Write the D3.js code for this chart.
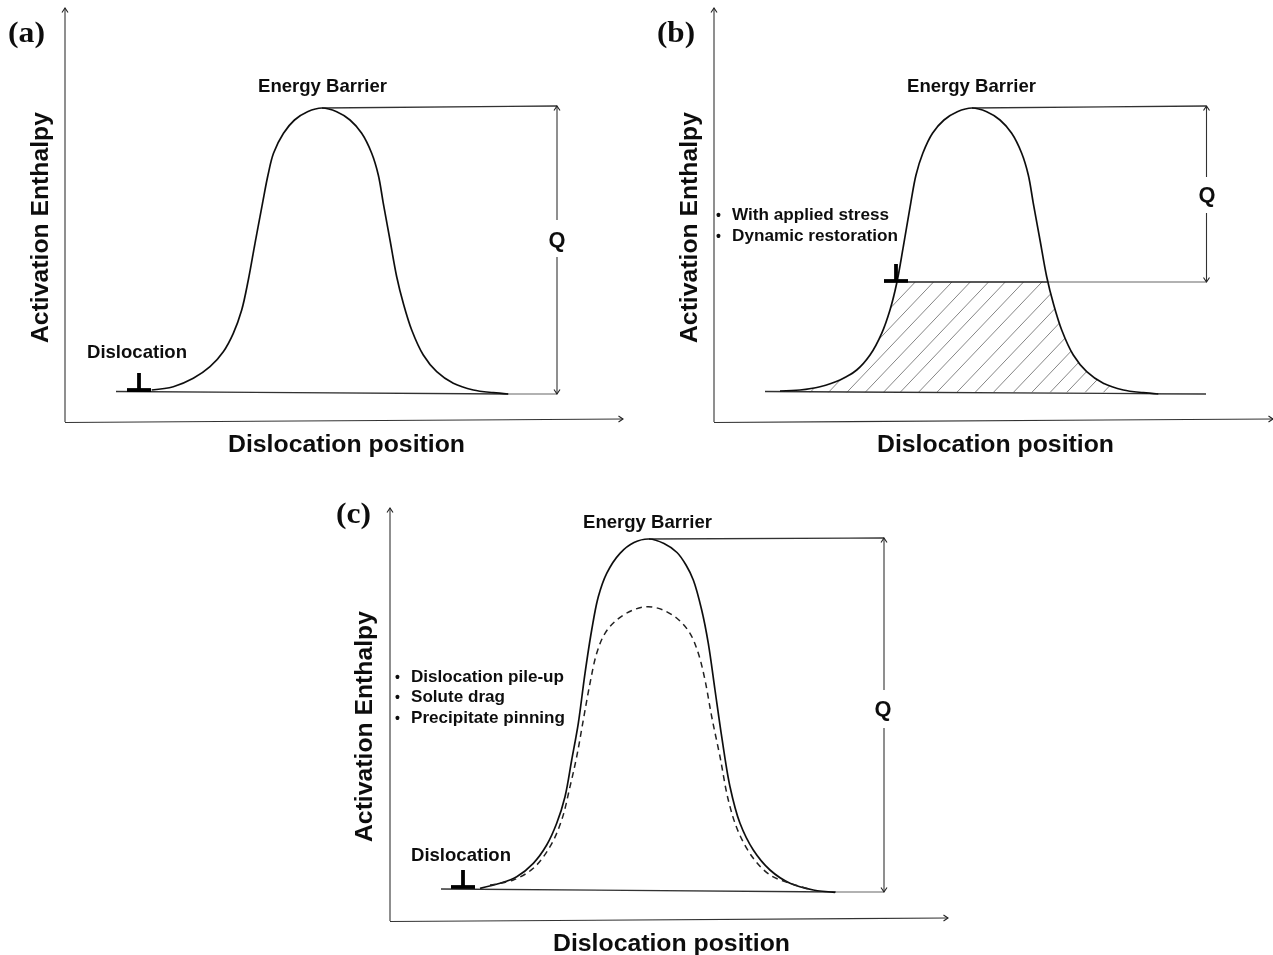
<!DOCTYPE html>
<html><head><meta charset="utf-8">
<style>html,body{margin:0;padding:0;background:#fff}svg{display:block}</style>
<script src="https://cdn.jsdelivr.net/npm/d3@7"></script></head>
<body><svg id="c" width="1273" height="955"></svg>
<script>
// Curve samples: dislocation position / activation enthalpy, in arbitrary units measured from each panel's axes origin
const posA=[86.7,108.3,128.3,145,158.3,168.3,176.7,183.3,190,197.5,203,208.5,218.5,229.5,242.5,257,271.7,285,296.7,306.7,313.3,318.3,325,331.7,338.3,346.7,358.3,371.7,388.3,408.3,428.3,443.3];
const enthA=[32,35.3,43.7,55.3,70.3,88.7,112,142,178.7,218.7,247,268.7,288.7,302,310.3,314,310.3,302,288.7,268.7,247,218.7,182,145.3,118.7,92,67,50.3,38.7,32,29.3,28];
const posB=[66,86,106,126,142.7,156,167.7,176,182.7,189.3,196.7,202,208.8,218.5,230,243.3,258,272.7,286,297.7,307.7,314.3,319.3,326,332.7,339.3,347.7,359.3,372.7,389.3,409.3,429.3,444.3];
const enthB=[31,32,35.3,42,52,67,88.7,112,138.7,175.3,218.7,247,268.7,288.7,302,310.3,314,310.3,302,288.7,268.7,247,218.7,182,145.3,118.7,92,67,50.3,38.7,32,29.3,28];
const posC=[90,110,126.7,143.3,156.7,166.7,175,181.7,188.3,195,201.7,208.3,216.7,230,244,259,274,287,296,303.3,311.7,318.3,325,331.7,340,350,363.3,380,400,423.3,445];
const enthC=[32.7,37.7,44.3,57.7,76,97.7,124.3,161,197.7,247.7,291,324.3,347.7,367.7,378.5,382,377.5,368.5,356,341,311,277.7,231,184.3,134.3,97.7,71,51,37.7,31,28.7];
const posCd=[100,123.3,143.3,160,171.7,180,186.7,193.3,200,206.7,215,226.7,243,258,273,288.3,300,308.3,315,321.7,330,338.3,348.3,363.3,380,400,420];
const enthCd=[36,41,52.7,74.3,101,134.3,164.3,201,237.7,267.7,287.7,301,311,314.3,311,301.5,287.7,267.7,241,204.3,164.3,121,89.3,62.7,46,37.7,31.7];
const hatchStarts=[96,114.3,132.7,151,169.3,186,204.3,222.7,242.7,261,279.3,299.3,317.7,336,352.7,371,389.3];
const panelLabels=["(a)","(b)","(c)"];
const xTitle="Dislocation position", yTitle="Activation Enthalpy", barrierLabel="Energy Barrier", dislocationLabel="Dislocation", qLabel="Q";
const notesB=["With applied stress","Dynamic restoration"];
const notesC=["Dislocation pile-up","Solute drag","Precipitate pinning"];

const svg=d3.select("#c");
const defs=svg.append("defs");
defs.append("filter").attr("id","soft").attr("x","0").attr("y","0").attr("width","1").attr("height","1")
  .append("feGaussianBlur").attr("stdDeviation",0.45);
defs.append("marker").attr("id","ah").attr("viewBox","-7 -4 8 8").attr("markerWidth",8).attr("markerHeight",8)
  .attr("markerUnits","userSpaceOnUse").attr("orient","auto-start-reverse")
  .append("path").attr("d","M-4.5,-3L0,0L-4.5,3").attr("fill","none").attr("stroke","#222").attr("stroke-width",1.1);
const root=svg.append("g").attr("filter","url(#soft)").append("g");
root.append("rect").attr("width",1273).attr("height",955).attr("fill","#fff");

const SANS="'Liberation Sans',Arial,sans-serif", SERIF="'Liberation Serif','Times New Roman',serif";
function txt(g,s,x,y,size,len,o={}){
  const t=g.append("text").attr("x",x).attr("y",y).attr("font-family",o.serif?SERIF:SANS).attr("font-weight","bold")
   .attr("font-size",size).attr("fill","#111").text(s);
  if(len)t.attr("textLength",len).attr("lengthAdjust","spacingAndGlyphs");
  if(o.rot)t.attr("transform",`rotate(-90 ${x} ${y})`);
  return t;
}
function panel(id,cfg){
  const g=root.append("g");
  const x=d3.scaleLinear().domain([0,cfg.w]).range([cfg.ox,cfg.ox+cfg.w]);
  const y=d3.scaleLinear().domain([0,cfg.h]).range([cfg.oy,cfg.oy-cfg.h]);
  const ln=d3.line().x(d=>x(d[0])).y(d=>y(d[1]));
  const seg=(pts,w,col,o={})=>{const p=g.append("path").attr("d",ln(pts)).attr("fill","none").attr("stroke",col).attr("stroke-width",w);
    if(o.start)p.attr("marker-start","url(#ah)"); if(o.end)p.attr("marker-end","url(#ah)"); return p;};
  // axes
  seg([[0,0],[0,cfg.h]],1.1,"#333",{end:true});
  seg([[0,-0.5],[cfg.w,3]],1.1,"#333",{end:true});
  const shape=d3.curveCatmullRom.alpha(0.5);
  const curve=d3.line().x(d=>x(d[0])).y(d=>y(d[1])).curve(shape);
  const data=cfg.px.map((p,i)=>[p,cfg.py[i]]);
  // hatch
  if(cfg.hatch){
    const area=d3.area().x(d=>x(d[0])).y0(y(cfg.base)).y1(d=>y(Math.min(d[1],cfg.level))).curve(shape);
    defs.append("clipPath").attr("id","clip"+id).append("path").attr("d",area(data));
    const hg=g.append("g").attr("clip-path",`url(#clip${id})`);
    cfg.hatch.forEach(s=>{hg.append("path").attr("d",ln([[s,cfg.base],[s+(cfg.level+5-cfg.base)/1.05,cfg.level+5]])).attr("fill","none").attr("stroke","#666").attr("stroke-width",0.8);});
  }
  // baseline, peak line, Q
  seg(cfg.baseline,1.3,"#333");
  seg(cfg.endline,1.1,"#666");
  seg(cfg.peakline,1.3,"#333");
  if(cfg.levelline){seg(cfg.levelline[0],1.5,"#222");seg(cfg.levelline[1],1.1,"#666");}
  seg([[cfg.qx,cfg.qTop],[cfg.qx,cfg.qGap[0]]],1.1,"#333",{start:true});
  seg([[cfg.qx,cfg.qGap[1]],[cfg.qx,cfg.qBot]],1.1,"#333",{end:true});
  g.append("path").attr("d",curve(data)).attr("fill","none").attr("stroke","#111").attr("stroke-width",1.7);
  if(cfg.dx){
    const dd=cfg.dx.map((p,i)=>[p,cfg.dy[i]]);
    g.append("path").attr("d",curve(dd)).attr("fill","none").attr("stroke","#222").attr("stroke-width",1.5).attr("stroke-dasharray","6 4.5");
  }
  // dislocation symbol
  const [sx,sy]=cfg.sym;
  seg([[sx-12,sy],[sx+12,sy]],3.8,"#000");
  seg([[sx,sy],[sx,sy+17]],3.8,"#000");
  // text
  txt(g,cfg.label,cfg.lab[0],cfg.lab[1],30,cfg.labW,{serif:true});
  txt(g,xTitle,cfg.xt[0],cfg.xt[1],24.8,237);
  txt(g,yTitle,cfg.yt[0],cfg.yt[1],24.75,231,{rot:true});
  txt(g,barrierLabel,cfg.eb[0],cfg.eb[1],18.5,129);
  if(cfg.dl)txt(g,dislocationLabel,cfg.dl[0],cfg.dl[1],18.5,100);
  txt(g,qLabel,cfg.q[0],cfg.q[1],22,17);
  (cfg.notes||[]).forEach((n,i)=>{
    txt(g,"•",cfg.noteX-16,cfg.noteY[i],14);
    txt(g,n,cfg.noteX,cfg.noteY[i],17,cfg.noteW[i]);
  });
}
panel("a",{ox:65,oy:422,w:558,h:414,px:posA,py:enthA,
  baseline:[[51,30.5],[443,28]],endline:[[443,28],[492,28]],peakline:[[257,314],[492,316]],
  qx:492,qTop:316,qBot:28,qGap:[202,165],sym:[74,32],
  label:panelLabels[0],lab:[8,42],labW:37,xt:[228,452],yt:[48,343],eb:[258,92],dl:[87,358],q:[548.5,247]});
panel("b",{ox:714,oy:422,w:559,h:414,px:posB,py:enthB,
  baseline:[[51,30.5],[492,28]],endline:[[444,28],[492,28]],peakline:[[258,314],[492,316]],
  levelline:[[[194,140],[333,140]],[[333,140],[492,140]]],
  base:29.5,level:140,hatch:hatchStarts,
  qx:492.5,qTop:316,qBot:140,qGap:[245,209],sym:[182,141],
  label:panelLabels[1],lab:[657,42],labW:38,xt:[877,452],yt:[697,343],eb:[907,92],q:[1198.5,202],
  notes:notesB,noteX:732,noteY:[220,241],noteW:[157,166]});
panel("c",{ox:390,oy:921,w:558,h:413,px:posC,py:enthC,dx:posCd,dy:enthCd,
  baseline:[[51,32],[446,29]],endline:[[446,29],[494,29]],peakline:[[259,382],[494,383]],
  qx:494,qTop:383,qBot:29,qGap:[231,193],sym:[73,34],
  label:panelLabels[2],lab:[336,523],labW:35,xt:[553,951],yt:[372,842],eb:[583,528],dl:[411,861],q:[874.5,716],
  notes:notesC,noteX:411,noteY:[682,702,723],noteW:[153,94,154]});
</script></body></html>
